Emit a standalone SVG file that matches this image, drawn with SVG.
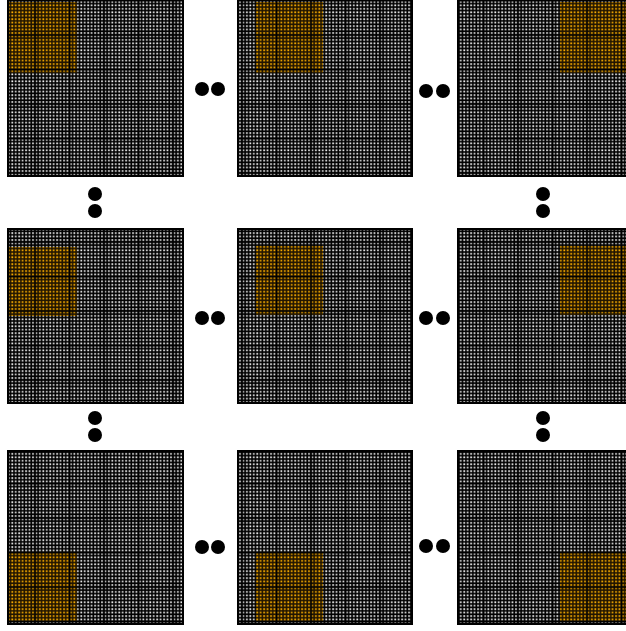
<svg xmlns="http://www.w3.org/2000/svg" width="626" height="631" viewBox="0 0 626 631">
<defs>
<pattern id="gw" x="0" y="0" width="3.45" height="3.45" patternUnits="userSpaceOnUse">
<rect width="3.45" height="3.45" fill="#000"/>
<rect x="1.1" y="1.1" width="1.7" height="1.7" fill="#f4f4f4"/>
</pattern>
<pattern id="go" x="0" y="0" width="3.45" height="3.45" patternUnits="userSpaceOnUse">
<rect width="3.45" height="3.45" fill="#201400"/>
<rect x="1.1" y="1.1" width="1.7" height="1.7" fill="#ffb000"/>
</pattern>
<pattern id="thick" x="0" y="0" width="34.5" height="34.5" patternUnits="userSpaceOnUse">
<rect x="0" y="0" width="1.4" height="34.5" fill="#000"/>
<rect x="0" y="0" width="34.5" height="1.4" fill="#000"/>
</pattern>
<clipPath id="view"><rect width="626" height="631"/></clipPath>
</defs>
<style>
.grid{fill:url(#gw);stroke:#000;stroke-width:2}
.hl{fill:url(#go)}
.lines{fill:url(#thick)}
.dot{fill:#000}
</style>
<g clip-path="url(#view)">
<g id="panel-1-1"><rect class="grid" x="8" y="0" width="175" height="176"/><rect class="hl" x="9" y="2" width="68" height="71"/><rect class="lines" x="8" y="0" width="175" height="176"/></g>
<g id="panel-1-2"><rect class="grid" x="238" y="0" width="174" height="176"/><rect class="hl" x="256" y="2" width="67" height="71"/><rect class="lines" x="238" y="0" width="174" height="176"/></g>
<g id="panel-1-3"><rect class="grid" x="458" y="0" width="177" height="176"/><rect class="hl" x="560" y="2" width="70" height="71"/><rect class="lines" x="458" y="0" width="177" height="176"/></g>
<g id="panel-2-1"><rect class="grid" x="8" y="229" width="175" height="174"/><rect class="hl" x="9" y="247" width="68" height="69"/><rect class="lines" x="8" y="229" width="175" height="174"/></g>
<g id="panel-2-2"><rect class="grid" x="238" y="229" width="174" height="174"/><rect class="hl" x="256" y="246" width="67" height="69"/><rect class="lines" x="238" y="229" width="174" height="174"/></g>
<g id="panel-2-3"><rect class="grid" x="458" y="229" width="177" height="174"/><rect class="hl" x="560" y="246" width="70" height="69"/><rect class="lines" x="458" y="229" width="177" height="174"/></g>
<g id="panel-3-1"><rect class="grid" x="8" y="451" width="175" height="173"/><rect class="hl" x="9" y="553" width="68" height="69"/><rect class="lines" x="8" y="451" width="175" height="173"/></g>
<g id="panel-3-2"><rect class="grid" x="238" y="451" width="174" height="173"/><rect class="hl" x="256" y="553" width="67" height="69"/><rect class="lines" x="238" y="451" width="174" height="173"/></g>
<g id="panel-3-3"><rect class="grid" x="458" y="451" width="177" height="173"/><rect class="hl" x="560" y="553" width="70" height="69"/><rect class="lines" x="458" y="451" width="177" height="173"/></g>
</g>
<g id="connectors">
<circle class="dot" cx="202" cy="89" r="7"/><circle class="dot" cx="218" cy="89" r="7"/>
<circle class="dot" cx="426" cy="91" r="7"/><circle class="dot" cx="443" cy="91" r="7"/>
<circle class="dot" cx="202" cy="318" r="7"/><circle class="dot" cx="218" cy="318" r="7"/>
<circle class="dot" cx="426" cy="318" r="7"/><circle class="dot" cx="443" cy="318" r="7"/>
<circle class="dot" cx="202" cy="547" r="7"/><circle class="dot" cx="218" cy="547" r="7"/>
<circle class="dot" cx="426" cy="546" r="7"/><circle class="dot" cx="443" cy="546" r="7"/>
<circle class="dot" cx="95" cy="194" r="7"/><circle class="dot" cx="95" cy="211" r="7"/>
<circle class="dot" cx="543" cy="194" r="7"/><circle class="dot" cx="543" cy="211" r="7"/>
<circle class="dot" cx="95" cy="418" r="7"/><circle class="dot" cx="95" cy="435" r="7"/>
<circle class="dot" cx="543" cy="418" r="7"/><circle class="dot" cx="543" cy="435" r="7"/>
</g>
</svg>
